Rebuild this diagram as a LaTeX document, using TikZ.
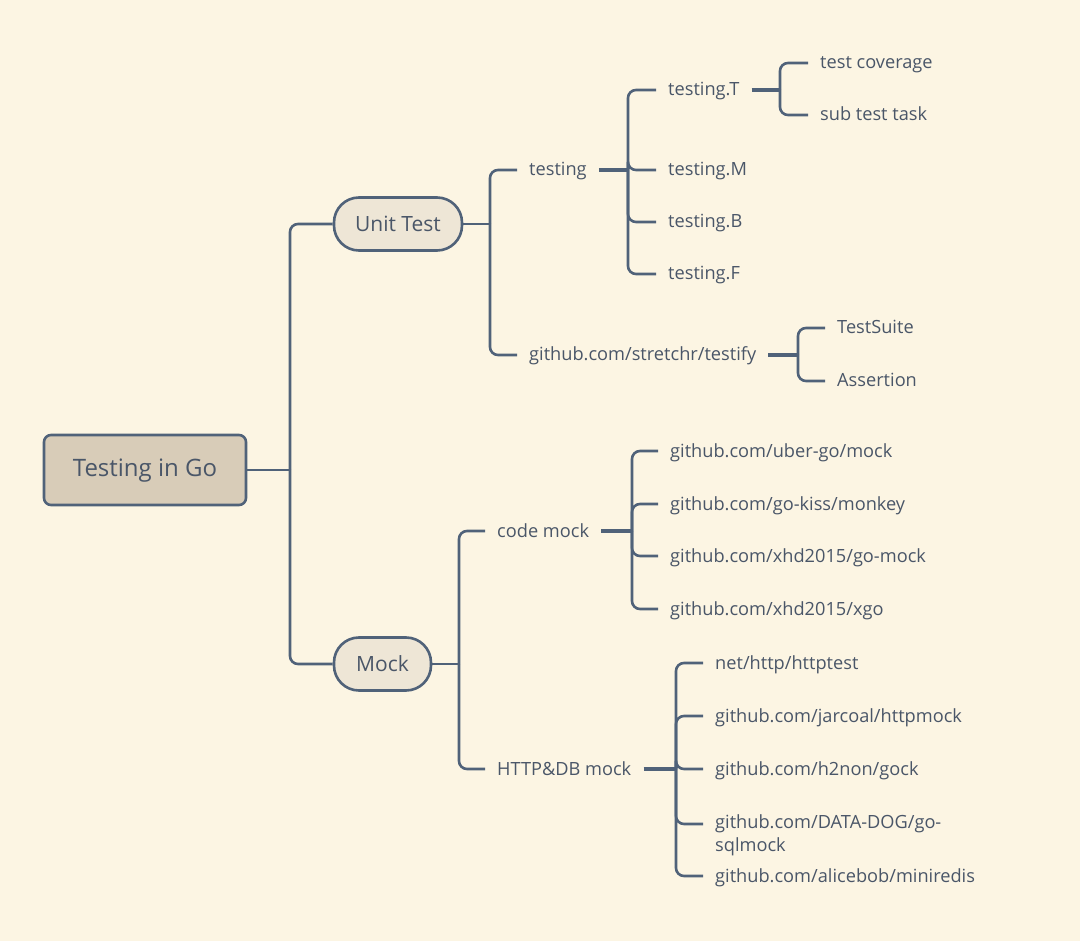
\documentclass[tikz,border=0pt]{standalone}
\usepackage{fontspec}
\setmainfont{Open Sans}
\definecolor{bgC}{HTML}{FCF5E3}
\definecolor{lineC}{HTML}{506279}
\definecolor{textC}{HTML}{4A5668}
\definecolor{rootC}{HTML}{D8CCB8}
\definecolor{pillC}{HTML}{EEE6D6}
\begin{document}
\begin{tikzpicture}[x=1pt,y=-1pt,
  conn/.style={draw=lineC, line width=2.6pt, rounded corners=8pt},
  stubline/.style={draw=lineC, line width=4pt},
  leaf/.style={anchor=west, inner xsep=12pt, inner ysep=0pt, text=textC,
    text height=13pt, text depth=1pt,
    font=\fontsize{18.2}{23}\selectfont},
  pill/.style={draw=lineC, line width=2.6pt, fill=pillC, rounded corners=25pt,
    text=textC, font=\fontsize{21}{24}\selectfont, minimum height=53pt, inner sep=0pt,
    text height=16pt, text depth=1pt},
  rootbox/.style={draw=lineC, line width=2.6pt, fill=rootC, rounded corners=7pt,
    text=textC, font=\fontsize{24}{28}\selectfont, minimum width=202pt,
    minimum height=70pt, inner sep=0pt, text height=14.5pt, text depth=1pt}
]
\useasboundingbox (0,0) rectangle (1080,941);
\fill[bgC] (0,0) rectangle (1080,941);

% nodes
\node[rootbox] (root) at (145,470) {Testing in Go};
\node[pill, minimum width=128pt] (ut) at (398,224) {Unit Test};
\node[pill, minimum width=97pt] (mock) at (382.5,664) {Mock};

\node[leaf] (testing) at (517,170) {testing};
\node[leaf] (testify) at (517,355) {github.com/stretchr/testify};
\node[leaf] (tT) at (656,90) {testing.T};
\node[leaf] (tM) at (656,170) {testing.M};
\node[leaf] (tB) at (656,222) {testing.B};
\node[leaf] (tF) at (656,274) {testing.F};
\node[leaf] (cov) at (808,63) {test coverage};
\node[leaf] (sub) at (808,115) {sub test task};
\node[leaf] (suite) at (825,328) {TestSuite};
\node[leaf] (assert) at (825,381) {Assertion};

\node[leaf] (code) at (485,531) {code mock};
\node[leaf] (http) at (485,769) {HTTP\&DB mock};
\node[leaf] (cm1) at (658,451) {github.com/uber-go/mock};
\node[leaf] (cm2) at (658,504) {github.com/go-kiss/monkey};
\node[leaf] (cm3) at (658,556) {github.com/xhd2015/go-mock};
\node[leaf] (cm4) at (658,609) {github.com/xhd2015/xgo};
\node[leaf] (h1) at (703,663) {net/http/httptest};
\node[leaf] (h2) at (703,716) {github.com/jarcoal/httpmock};
\node[leaf] (h3) at (703,769) {github.com/h2non/gock};
\node[leaf, anchor=north west, align=left, text height=, text depth=] (h4) at (703,814) {github.com/DATA-DOG/go-\\sqlmock};
\node[leaf] (h5) at (703,876) {github.com/alicebob/miniredis};

% junctions
\coordinate (rj) at (290,470);
\coordinate (uj) at (490,224);
\coordinate (mj) at (459,664);
\coordinate (tj) at (628,170);
\coordinate (tTj) at (780,90);
\coordinate (fj) at (798,355);
\coordinate (cj) at (632,531);
\coordinate (hj) at (676,769);

% connectors
\draw[conn] (root.east) -- (rj);
\draw[conn] (rj) |- (ut.west);
\draw[conn] (rj) |- (mock.west);

\draw[conn] (ut.east) -- (uj);
\draw[conn] (uj) |- (testing.west);
\draw[conn] (uj) |- (testify.west);

\draw[stubline] (testing.east) -- (tj);
\draw[conn] (tj) |- (tT.west);
\draw[conn] (tj) |- (tM.west);
\draw[conn] (tj) |- (tB.west);
\draw[conn] (tj) |- (tF.west);

\draw[stubline] (tT.east) -- (tTj);
\draw[conn] (tTj) |- (cov.west);
\draw[conn] (tTj) |- (sub.west);

\draw[stubline] (testify.east) -- (fj);
\draw[conn] (fj) |- (suite.west);
\draw[conn] (fj) |- (assert.west);

\draw[conn] (mock.east) -- (mj);
\draw[conn] (mj) |- (code.west);
\draw[conn] (mj) |- (http.west);

\draw[stubline] (code.east) -- (cj);
\draw[conn] (cj) |- (cm1.west);
\draw[conn] (cj) |- (cm2.west);
\draw[conn] (cj) |- (cm3.west);
\draw[conn] (cj) |- (cm4.west);

\draw[stubline] (http.east) -- (hj);
\draw[conn] (hj) |- (h1.west);
\draw[conn] (hj) |- (h2.west);
\draw[conn] (hj) |- (h3.west);
\draw[conn] (hj) |- ([yshift=-10pt]h4.north west);
\draw[conn] (hj) |- (h5.west);
\end{tikzpicture}
\end{document}
